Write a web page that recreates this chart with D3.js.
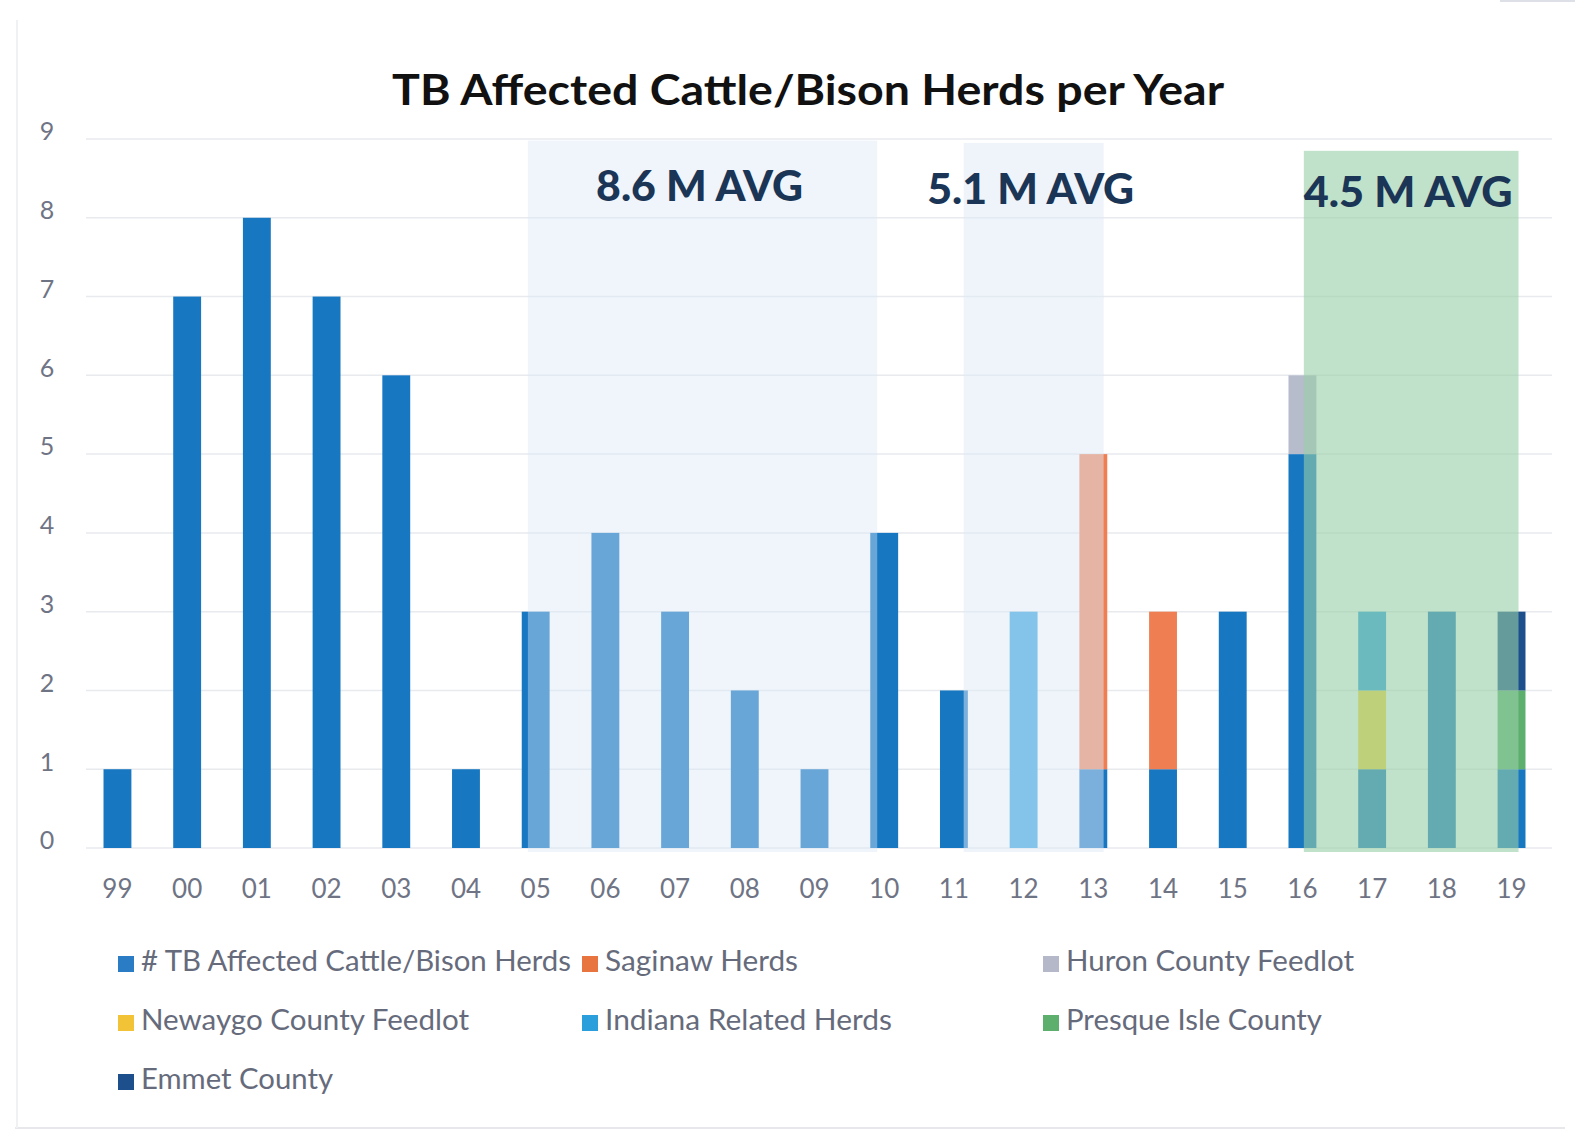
<!DOCTYPE html>
<html>
<head>
<meta charset="utf-8">
<script src="https://cdn.jsdelivr.net/npm/d3@7"></script>
<style>
  html, body { margin: 0; padding: 0; background: #ffffff; }
  svg { display: block; }
</style>
</head>
<body>
<svg id="chart" width="1575" height="1134"></svg>
<script>
// ---------- DATA ----------
const years = ['99','00','01','02','03','04','05','06','07','08','09','10','11','12','13','14','15','16','17','18','19'];
const tbHerds      = [1,7,8,7,6,1,3,4,3,2,1,4,2,0,1,1,3,5,1,3,1];
const saginawHerds = [0,0,0,0,0,0,0,0,0,0,0,0,0,0,4,2,0,0,0,0,0];
const huronFeedlot = [0,0,0,0,0,0,0,0,0,0,0,0,0,0,0,0,0,1,0,0,0];
const newaygoFeedlot=[0,0,0,0,0,0,0,0,0,0,0,0,0,0,0,0,0,0,1,0,0];
const indianaHerds = [0,0,0,0,0,0,0,0,0,0,0,0,0,3,0,0,0,0,1,0,0];
const presqueIsle  = [0,0,0,0,0,0,0,0,0,0,0,0,0,0,0,0,0,0,0,0,1];
const emmetCounty  = [0,0,0,0,0,0,0,0,0,0,0,0,0,0,0,0,0,0,0,0,1];

const seriesNames = ['# TB Affected Cattle/Bison Herds','Saginaw Herds','Huron County Feedlot',
                     'Newaygo County Feedlot','Indiana Related Herds','Presque Isle County','Emmet County'];
const yTicks = [0,1,2,3,4,5,6,7,8,9];

const periodFrom   = ['05','11','16'];
const periodTo     = ['10','13','19'];
const periodLabels = ['8.6 M AVG','5.1 M AVG','4.5 M AVG'];

const titleText = 'TB Affected Cattle/Bison Herds per Year';

// ---------- STYLE ----------
const seriesColors = ['#1777c1','#ef7f52','#b7bccc','#f7d437','#2a9fe0','#5daf6e','#1d4f8c'];
const legendSwatch = ['#2a7cc4','#e8743f','#b4b8c8','#f2c237','#2b9fdc','#5daf6e','#1d4f8c'];
const periodFill   = ['rgb(218,232,246)','rgb(222,234,246)','rgb(152,207,167)'];
const periodAlpha  = [0.42,0.5,0.6];
const legendWidths = [430, 193, 288, 328, 287, 256, 192];

const svg = d3.select('#chart');

const series = [tbHerds, saginawHerds, huronFeedlot, newaygoFeedlot, indianaHerds, presqueIsle, emmetCounty];
const table = years.map((yr, i) => {
  const row = { year: yr };
  seriesNames.forEach((n, k) => { row[n] = series[k][i]; });
  return row;
});

const x = d3.scaleBand().domain(years).range([82.6, 1546.4]).paddingInner(0.6).paddingOuter(0.3);
const y = d3.scaleLinear().domain([0, 9]).range([848, 139]);
const bw = x.bandwidth();

// gridlines
svg.append('g').selectAll('line').data(yTicks).join('line')
  .attr('x1', 86).attr('x2', 1552)
  .attr('y1', d => y(d)).attr('y2', d => y(d))
  .attr('stroke', '#e8eaee').attr('stroke-width', 1.5);

// y tick labels
svg.append('g').selectAll('text').data(yTicks).join('text')
  .attr('x', 47).attr('y', d => y(d) - 5)
  .attr('text-anchor', 'middle').attr('dominant-baseline', 'middle')
  .attr('font-family', 'Lato, "Open Sans", sans-serif').attr('font-size', 25)
  .attr('fill', '#6f7485')
  .text(d => d);

// stacked bars
const stack = d3.stack().keys(seriesNames);
const stacked = stack(table);
svg.append('g').selectAll('g').data(stacked).join('g')
  .attr('fill', (d, i) => seriesColors[i])
  .selectAll('rect').data(d => d.filter(s => s[1] - s[0] > 0)).join('rect')
  .attr('x', d => x(d.data.year))
  .attr('width', bw)
  .attr('y', d => y(d[1]))
  .attr('height', d => y(d[0]) - y(d[1]));

// shaded periods (overlay on top of bars)
const startFrac = [0.22, 0.85, 0.55];
const endFrac   = [0.25, 0.87, 0.75];
const topVal    = [8.98, 8.95, 8.85];
const labelBase = [201, 204, 207];
const labelW    = [207, 207, 209];
periodFrom.forEach((f, i) => {
  const x0 = x(f) + startFrac[i] * bw;
  const x1 = x(periodTo[i]) + endFrac[i] * bw;
  svg.append('rect')
    .attr('x', x0).attr('y', y(topVal[i]))
    .attr('width', x1 - x0).attr('height', y(0) - y(topVal[i]) + 4)
    .attr('fill', periodFill[i]).attr('fill-opacity', periodAlpha[i]);
  svg.append('text')
    .attr('x', (x0 + x1) / 2 - 3).attr('y', labelBase[i])
    .attr('text-anchor', 'middle')
    .attr('font-family', 'Lato, "Open Sans", sans-serif').attr('font-weight', 900)
    .attr('font-size', 42).attr('fill', '#1b3556')
    .attr('textLength', labelW[i]).attr('lengthAdjust', 'spacingAndGlyphs')
    .text(periodLabels[i]);
});

// x axis labels
svg.append('g').selectAll('text').data(years).join('text')
  .attr('x', d => x(d) + bw / 2).attr('y', 898)
  .attr('text-anchor', 'middle')
  .attr('font-family', 'Lato, "Open Sans", sans-serif').attr('font-size', 26)
  .attr('fill', '#6f7485')
  .text(d => d);

// title
svg.append('text')
  .attr('x', 808).attr('y', 105)
  .attr('text-anchor', 'middle')
  .attr('font-family', 'Lato, "Open Sans", sans-serif').attr('font-weight', 700)
  .attr('font-size', 42).attr('fill', '#111111')
  .attr('textLength', 832).attr('lengthAdjust', 'spacingAndGlyphs')
  .text(titleText);

// legend
const legendCol = [118, 582, 1043];
const legendRow = [964, 1023, 1082];
const legend = svg.append('g');
seriesNames.forEach((n, i) => {
  const cx = legendCol[i % 3], cy = legendRow[Math.floor(i / 3)];
  legend.append('rect').attr('x', cx).attr('y', cy - 8).attr('width', 16).attr('height', 16)
    .attr('fill', legendSwatch[i]);
  legend.append('text').attr('x', cx + 23).attr('y', cy)
    .attr('dominant-baseline', 'middle')
    .attr('font-family', 'Lato, "Open Sans", sans-serif').attr('font-size', 28)
    .attr('fill', '#666b7c')
    .attr('textLength', legendWidths[i]).attr('lengthAdjust', 'spacingAndGlyphs')
    .text(n);
});

// faint photo frame
svg.append('line').attr('x1', 15).attr('x2', 1565).attr('y1', 1128).attr('y2', 1128)
  .attr('stroke', '#e6e8ec').attr('stroke-width', 2);
svg.append('line').attr('x1', 17).attr('x2', 17).attr('y1', 20).attr('y2', 1128)
  .attr('stroke', '#f0f1f3').attr('stroke-width', 2);
svg.append('line').attr('x1', 1500).attr('x2', 1575).attr('y1', 1).attr('y2', 1)
  .attr('stroke', '#dde0e6').attr('stroke-width', 2);
</script>
</body>
</html>
